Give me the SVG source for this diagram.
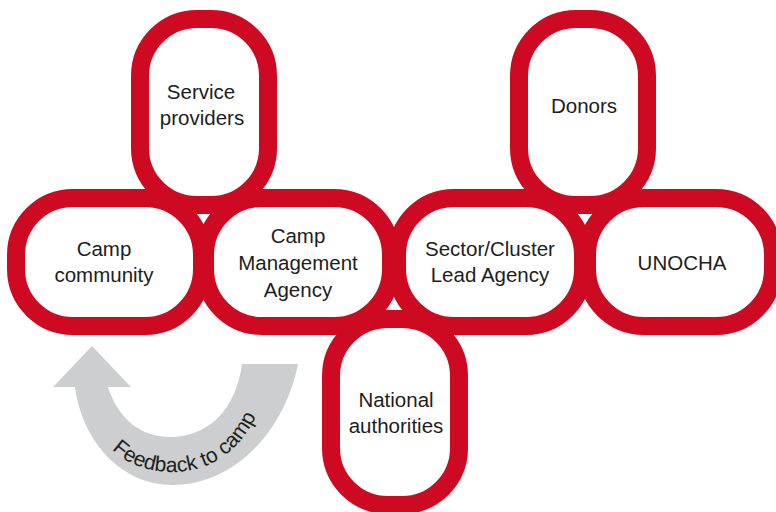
<svg xmlns="http://www.w3.org/2000/svg" width="776" height="512" viewBox="0 0 776 512">
  <style>
    .node { fill: #ffffff; stroke: #cd0a21; stroke-width: 18; }
    .label { font-family: "Liberation Sans", Arial, sans-serif; font-size: 20.5px; fill: #1d1d1b; text-anchor: middle; }
    .arrow { fill: #cdcecf; }
    .arrow-label { font-family: "Liberation Sans", Arial, sans-serif; font-size: 21px; fill: #1d1d1b; }
  </style>
  <defs>
    <path id="feedbackPath" d="M84,395 C95,448 130,472 172,472 C225,472 262,432 270,365"/>
  </defs>
  <rect width="776" height="512" fill="#ffffff"/>

  <g id="connectors">
    <path class="arrow" d="M298,364 C285,430 235,485 173,485 C120,485 82,440 75,387 L53,387 L92,346 L131,387 L108,387 C118,418 140,437 170,437 C208,437 236,410 242,364 Z"/>
    <text class="arrow-label"><textPath href="#feedbackPath" startOffset="62">Feedback to camp</textPath></text>
  </g>

  <g id="service-providers">
    <rect class="node" x="140" y="19" width="128" height="186" rx="57"/>
    <text class="label" x="201" y="99">Service</text>
    <text class="label" x="202" y="125">providers</text>
  </g>

  <g id="donors">
    <rect class="node" x="519" y="19" width="128" height="186" rx="57"/>
    <text class="label" x="584" y="113">Donors</text>
  </g>

  <g id="national-authorities">
    <rect class="node" x="331" y="319" width="128" height="186" rx="57"/>
    <text class="label" x="396" y="407">National</text>
    <text class="label" x="396" y="433">authorities</text>
  </g>

  <g id="camp-community">
    <rect class="node" x="16" y="198" width="186" height="128" rx="57"/>
    <text class="label" x="104" y="256">Camp</text>
    <text class="label" x="104" y="282">community</text>
  </g>

  <g id="camp-management-agency">
    <rect class="node" x="205" y="198" width="186" height="128" rx="57"/>
    <text class="label" x="298" y="243">Camp</text>
    <text class="label" x="298" y="270">Management</text>
    <text class="label" x="298" y="297">Agency</text>
  </g>

  <g id="sector-cluster-lead-agency">
    <rect class="node" x="397" y="198" width="186" height="128" rx="57"/>
    <text class="label" x="490" y="256">Sector/Cluster</text>
    <text class="label" x="490" y="282">Lead Agency</text>
  </g>

  <g id="unocha">
    <rect class="node" x="587" y="198" width="186" height="128" rx="57"/>
    <text class="label" x="682" y="270">UNOCHA</text>
  </g>
</svg>
